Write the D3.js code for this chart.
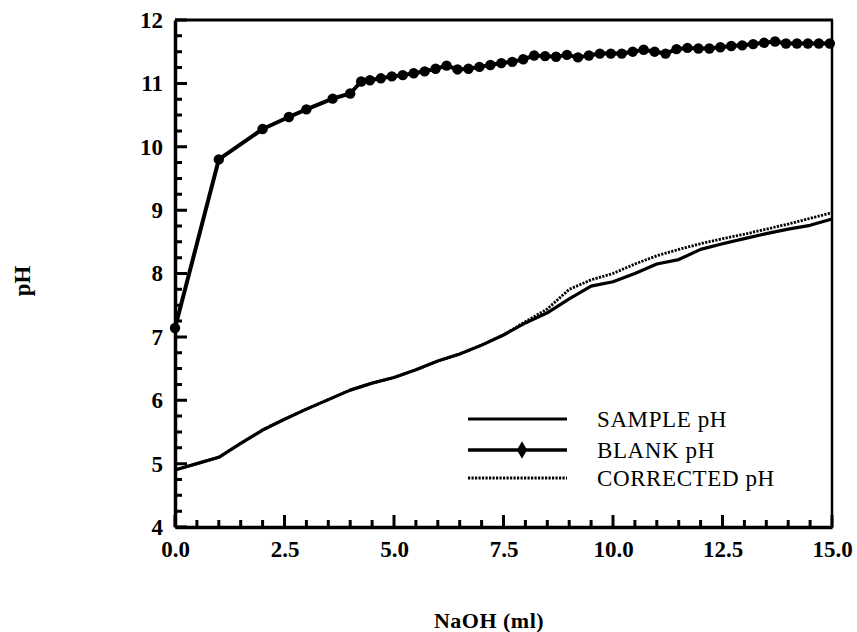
<!DOCTYPE html>
<html><head><meta charset="utf-8">
<script src="https://cdn.jsdelivr.net/npm/d3@7"></script>
<style>html,body{margin:0;padding:0;background:#fff;} svg{display:block;}</style>
</head><body>
<svg id="chart" width="857" height="632"></svg>
<script>
const sampleX = [0,0.5,1.0,1.5,2.0,2.5,3.0,3.5,4.0,4.5,5.0,5.5,6.0,6.5,7.0,7.5,8.0,8.5,9.0,9.5,10.0,10.5,11.0,11.5,12.0,12.5,13.0,13.5,14.0,14.5,15.0];
const sampleY = [4.90,5.00,5.10,5.32,5.53,5.70,5.86,6.01,6.16,6.27,6.36,6.48,6.62,6.73,6.87,7.03,7.22,7.38,7.60,7.80,7.87,8.00,8.15,8.22,8.38,8.47,8.55,8.63,8.70,8.76,8.86];
const correctedY = [4.90,5.00,5.10,5.32,5.53,5.70,5.86,6.01,6.16,6.27,6.36,6.48,6.62,6.73,6.87,7.03,7.24,7.44,7.75,7.90,8.00,8.15,8.28,8.38,8.47,8.55,8.62,8.70,8.78,8.87,8.96];
const blankX = [0,1.0,2.0,2.6,3.0,3.6,4.0,4.25,4.45,4.7,4.95,5.2,5.45,5.7,5.95,6.2,6.45,6.7,6.95,7.2,7.45,7.7,7.95,8.2,8.45,8.7,8.95,9.2,9.45,9.7,9.95,10.2,10.45,10.7,10.95,11.2,11.45,11.7,11.95,12.2,12.45,12.7,12.95,13.2,13.45,13.7,13.95,14.2,14.45,14.7,14.95];
const blankY = [7.14,9.80,10.28,10.47,10.59,10.76,10.84,11.03,11.05,11.08,11.11,11.13,11.16,11.19,11.23,11.28,11.22,11.23,11.26,11.29,11.32,11.34,11.38,11.44,11.43,11.42,11.45,11.41,11.44,11.47,11.47,11.47,11.50,11.53,11.50,11.47,11.54,11.56,11.55,11.55,11.57,11.59,11.60,11.62,11.64,11.66,11.63,11.63,11.63,11.63,11.63];
const xTicks = [0,2.5,5,7.5,10,12.5,15];
const yTicks = [4,5,6,7,8,9,10,11,12];
const xMinorTicks = [0,0.5,1,1.5,2,2.5,3,3.5,4,4.5,5,5.5,6,6.5,7,7.5,8,8.5,9,9.5,10,10.5,11,11.5,12,12.5,13,13.5,14,14.5,15];
const yMinorTicks = [4,4.25,4.5,4.75,5,5.25,5.5,5.75,6,6.25,6.5,6.75,7,7.25,7.5,7.75,8,8.25,8.5,8.75,9,9.25,9.5,9.75,10,10.25,10.5,10.75,11,11.25,11.5,11.75,12];
const legendLabels = ["SAMPLE pH","BLANK pH","CORRECTED pH"];

const svg = d3.select("#chart");
const L=175, R=832, T=20, B=527;
const x = d3.scaleLinear().domain([0,15]).range([L,R]);
const y = d3.scaleLinear().domain([4,12]).range([B,T]);
const font = "'Liberation Serif','Times New Roman',serif";

// axes via d3 (labels + domain)
const gx = svg.append("g").attr("transform",`translate(0,${B})`)
  .call(d3.axisBottom(x).tickValues(xTicks).tickFormat(d3.format(".1f")).tickSize(0).tickPadding(14));
const gy = svg.append("g").attr("transform",`translate(${L},0)`)
  .call(d3.axisLeft(y).tickValues(yTicks).tickFormat(d3.format("d")).tickSize(0).tickPadding(12));
[gx,gy].forEach(g=>{
  g.select(".domain").attr("stroke","#000").attr("stroke-width",3.5);
  g.selectAll("text").attr("font-family",font).attr("font-weight","bold").attr("font-size",23).attr("fill","#000");
});

// inward ticks
function isMul(v,step){ const r=v/step; return Math.abs(r-Math.round(r))<1e-6; }
let tp = "";
xMinorTicks.forEach(v=>{ const len=isMul(v,2.5)?12:7; tp += `M${x(v)},${B}V${B-len}`; });
yMinorTicks.forEach(v=>{ const len=isMul(v,1)?12:7; tp += `M${L},${y(v)}H${L+len}`; });
svg.append("path").attr("d",tp).attr("fill","none").attr("stroke","#000").attr("stroke-width",3);

// frame
svg.append("line").attr("x1",R).attr("x2",R).attr("y1",T).attr("y2",B+1).attr("stroke","#000").attr("stroke-width",2.5);
svg.append("line").attr("x1",L).attr("x2",R+1).attr("y1",T).attr("y2",T).attr("stroke","#000").attr("stroke-width",3);

// lines
const line = d3.line().x(d=>x(d[0])).y(d=>y(d[1])).curve(d3.curveLinear);
const sample = sampleX.map((v,i)=>[v,sampleY[i]]);
const corrected = sampleX.map((v,i)=>[v,correctedY[i]]);
const blank = blankX.map((v,i)=>[v,blankY[i]]);

svg.append("path").datum(sample).attr("d",line).attr("fill","none").attr("stroke","#000").attr("stroke-width",3.2).attr("stroke-linejoin","round");
svg.append("path").datum(corrected).attr("d",line).attr("fill","none").attr("stroke","#000").attr("stroke-width",2.8).attr("stroke-dasharray","2.2,1.3");
svg.append("path").datum(blank).attr("d",line).attr("fill","none").attr("stroke","#000").attr("stroke-width",4).attr("stroke-linejoin","round");
svg.append("g").selectAll("circle").data(blank).join("circle")
  .attr("cx",d=>x(d[0])).attr("cy",d=>y(d[1])).attr("r",5.2).attr("fill","#000");

// legend
const ly = [419,450,478];
const lg = svg.append("g");
lg.append("line").attr("x1",468).attr("x2",567).attr("y1",ly[0]).attr("y2",ly[0]).attr("stroke","#000").attr("stroke-width",3.2);
lg.append("line").attr("x1",468).attr("x2",567).attr("y1",ly[1]).attr("y2",ly[1]).attr("stroke","#000").attr("stroke-width",3.5);
lg.append("path").attr("d",d3.symbol(d3.symbolDiamond,90)()).attr("transform",`translate(522,${ly[1]})`).attr("fill","#000");
lg.append("line").attr("x1",468).attr("x2",567).attr("y1",ly[2]).attr("y2",ly[2]).attr("stroke","#000").attr("stroke-width",2.8).attr("stroke-dasharray","2.2,1.3");
lg.selectAll("text").data(legendLabels).join("text")
  .attr("x",597).attr("y",(d,i)=>ly[i]+8).text(d=>d)
  .attr("font-family",font).attr("font-size",23).attr("letter-spacing",0.6).attr("fill","#000");

// axis titles
svg.append("text").attr("x",489).attr("y",628).attr("text-anchor","middle")
  .attr("font-family",font).attr("font-weight","bold").attr("font-size",22).attr("letter-spacing",0.5).text("NaOH (ml)");
svg.append("text").attr("transform","translate(30,281) rotate(-90)").attr("text-anchor","middle")
  .attr("font-family",font).attr("font-weight","bold").attr("font-size",23).text("pH");
</script>
</body></html>
